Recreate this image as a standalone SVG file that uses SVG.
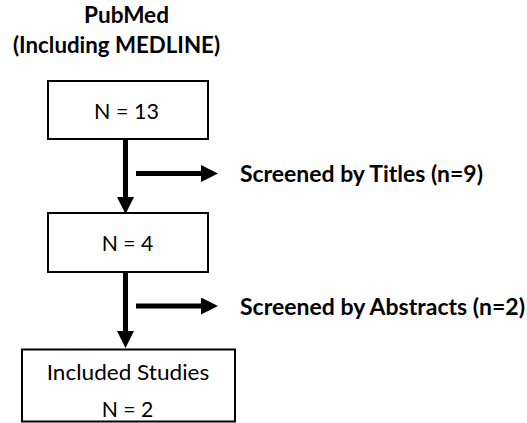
<svg xmlns="http://www.w3.org/2000/svg" width="527" height="423" viewBox="0 0 527 423">
<style>
.box{fill:#fff;stroke:#000;stroke-width:2}
.t{font-family:Lato,"Liberation Sans",sans-serif;font-size:22px;fill:#000}
.b{font-weight:bold}
.c{text-anchor:middle}
.arr{stroke:#000;stroke-width:5;fill:none;marker-end:url(#ah)}
</style>
<defs>
<marker id="ah" markerUnits="userSpaceOnUse" markerWidth="17" markerHeight="17" refX="0" refY="8.5" orient="auto" viewBox="0 0 17 17">
<path d="M0,0 L17,8.5 L0,17 z" fill="#000"/>
</marker>
</defs>
<g id="title">
<text class="t b" x="84" y="23" textLength="85" lengthAdjust="spacingAndGlyphs">PubMed</text>
<text class="t b" x="13" y="53" textLength="207" lengthAdjust="spacingAndGlyphs">(Including MEDLINE)</text>
</g>
<g id="n13">
<rect class="box" x="48" y="81" width="160" height="58"/>
<text class="t" x="94" y="118.5" textLength="65" lengthAdjust="spacingAndGlyphs">N = 13</text>
</g>
<g id="n4">
<rect class="box" x="48" y="213" width="160" height="59"/>
<text class="t" x="101.7" y="251" textLength="51.6" lengthAdjust="spacingAndGlyphs">N = 4</text>
</g>
<g id="included">
<rect class="box" x="22" y="349.5" width="213" height="72"/>
<text class="t" x="46.7" y="380" textLength="162.6" lengthAdjust="spacingAndGlyphs">Included Studies</text>
<text class="t" x="101.7" y="416.5" textLength="51.6" lengthAdjust="spacingAndGlyphs">N = 2</text>
</g>
<g id="screen1">
<text class="t b" x="240" y="182" textLength="243" lengthAdjust="spacingAndGlyphs">Screened by Titles (n=9)</text>
</g>
<g id="screen2">
<text class="t b" x="240" y="314.5" textLength="285" lengthAdjust="spacingAndGlyphs">Screened by Abstracts (n=2)</text>
</g>
<g id="connectors">
<line class="arr" x1="125.5" y1="140" x2="125.5" y2="197"/>
<line class="arr" x1="136" y1="173.5" x2="201" y2="173.5"/>
<line class="arr" x1="125.5" y1="272" x2="125.5" y2="331"/>
<line class="arr" x1="136" y1="306" x2="201" y2="306"/>
</g>
</svg>
